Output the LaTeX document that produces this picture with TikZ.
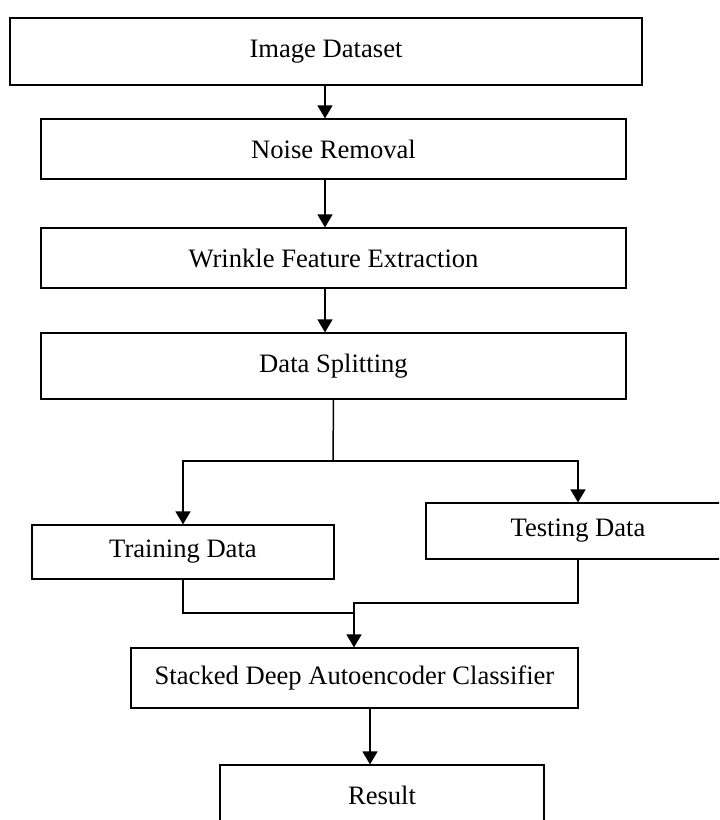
\documentclass[tikz,border=0pt]{standalone}
\usepackage{fontspec}
\setmainfont{Liberation Serif}
\usetikzlibrary{arrows.meta,calc}

\begin{document}
\begin{tikzpicture}[x=0.5pt,y=-0.5pt,
	box/.style={draw,line width=0.6pt,inner sep=0pt,font=\fontsize{13.3pt}{15pt}\selectfont},
	arr/.style={-{Triangle[length=6.5pt,width=7.5pt]},line width=0.75pt},
	lin/.style={line width=0.75pt}]
					\clip (0,0) rectangle (719,820);
					%\draw[help lines] (0,0) grid[step=50] (719,820);
					%BOXES
					\node[box,minimum width=316pt,minimum height=33.5pt](dataset) at (326,51.5) {Image Dataset};
					\node[box,minimum width=292.5pt,minimum height=30pt](noise) at (333.5,149) {Noise Removal};
					\node[box,minimum width=292.5pt,minimum height=30pt](wrinkle) at (333.5,258) {Wrinkle Feature Extraction};
					\node[box,minimum width=292.5pt,minimum height=33pt](split) at (333.5,366) {Data Splitting};
					\node[box,minimum width=151pt,minimum height=27pt](train) at (183,552) {Training Data};
					\node[box,minimum width=152pt,minimum height=28pt](test) at (578,531) {Testing Data};
					\node[box,minimum width=223.5pt,minimum height=30pt](sdae) at (354.5,678) {Stacked Deep Autoencoder Classifier};
					\node[box,minimum width=162pt,minimum height=30pt](result) at (382,795) {Result};
					%JOINS
					\coordinate (fork) at (333,461);
					\coordinate (join) at (354,613);
					\coordinate (join') at (354,603);
					%ARROWS
					\draw[arr] ([xshift=-0.5pt]dataset.south) -- ([xshift=-0.5pt]dataset.south |- noise.north);
					\draw[arr] ([xshift=-4.25pt]noise.south) -- ([xshift=-4.25pt]wrinkle.north);
					\draw[arr] ([xshift=-4.25pt]wrinkle.south) -- ([xshift=-4.25pt]split.north);
					\draw[lin] (split.south) -- (fork);
					\draw[arr] (fork) -| (train.north);
					\draw[arr] (fork) -| (test.north);
					\draw[lin] (train.south) |- (join);
					\draw[arr] (test.south) |- (join') -- (join' |- sdae.north);
					\draw[arr] ([xshift=7.75pt]sdae.south) -- ([xshift=7.75pt]sdae.south |- result.north);
	  \end{tikzpicture}
\end{document}
